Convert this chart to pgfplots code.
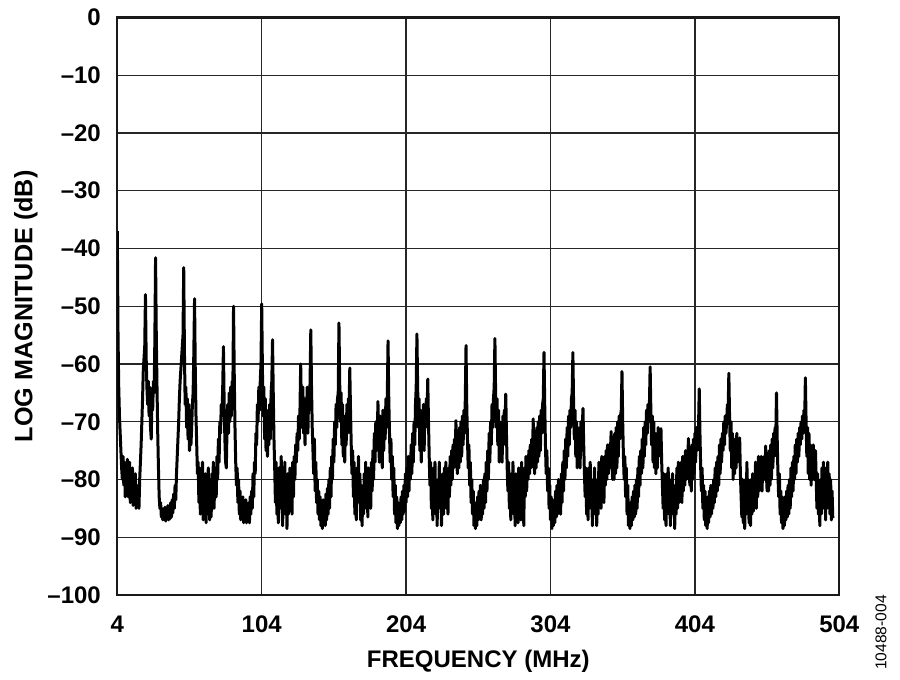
\documentclass[border=0pt]{standalone}
\usepackage{pgfplots}
\pgfplotsset{compat=1.18}
\usepackage{fontspec}
\setmainfont{Liberation Sans}
\begin{document}
\begin{tikzpicture}
\useasboundingbox (-58.65pt,-42.5pt) rectangle (391.35pt,297.5pt);
\begin{axis}[
  scale only axis, width=361pt, height=288.75pt,
  xmin=4, xmax=504, ymin=-100, ymax=0,
  xtick={4,104,204,304,404,504},
  xticklabels={4,104,204,304,404,504},
  ytick={-100,-90,-80,-70,-60,-50,-40,-30,-20,-10,0},
  yticklabels={\textendash100,\textendash90,\textendash80,\textendash70,\textendash60,\textendash50,\textendash40,\textendash30,\textendash20,\textendash10,0},
  grid=major,
  major grid style={line width=0.7pt, draw=black!85},
  axis line style={line width=1.1pt, draw=black!90},
  major tick length=0pt,
  tick label style={font=\fontsize{12}{14}\selectfont\bfseries},
  /pgf/number format/assume math mode=true,
  xticklabel style={yshift=-7pt},
  yticklabel style={xshift=-4.7pt},
  xlabel={FREQUENCY (MHz)},
  ylabel={LOG MAGNITUDE (dB)},
  xlabel style={at={(axis description cs:0.5,-0.1264)}, anchor=base, font=\fontsize{12}{14}\selectfont\bfseries},
  ylabel style={at={(axis description cs:-0.1177,0.5)}, rotate=0, anchor=base, font=\fontsize{12.6}{14}\selectfont\bfseries},
]
\addplot[black, line width=1.5pt, line join=round, mark=none] coordinates {
(4,-37)(4.5,-55)(5,-64)(5.5,-69)(6,-72)(6.5,-75)(7,-78)(7.5,-80)(8,-76)(8.5,-81)
(9,-77)(9.5,-83)(10,-78)(10.5,-80)(11,-76.5)(11.5,-83)(12,-79)(12.5,-77)(13,-84)(13.5,-79)
(14,-82)(14.5,-78)(15,-84.5)(15.5,-80)(16,-83)(16.5,-79)(17,-85)(17.5,-81)(18,-84.5)(18.5,-82)
(19,-85)(19.5,-80)(20,-77)(20.5,-74)(21,-70)(21.5,-66)(22,-61)(22.5,-59)(23,-57)(23.5,-48)
(24,-59)(24.5,-64)(25,-67)(25.5,-63)(26,-69)(26.5,-64)(27,-71)(27.5,-73)(28,-66)(28.5,-68)
(29,-63)(29.5,-65)(30,-56)(30.5,-41.6)(31,-55)(31.5,-64)(32,-72)(32.5,-78)(33,-83)(33.5,-85)
(34,-84)(34.5,-86.5)(35,-85)(35.5,-87)(36,-85.5)(36.5,-86.8)(37,-84.8)(37.5,-87.2)(38,-85.5)(38.5,-86.5)
(39,-84.5)(39.5,-87)(40,-85)(40.5,-86.8)(41,-84)(41.5,-86.5)(42,-83.5)(42.5,-85.8)(43,-82.5)(43.5,-85)
(44,-81)(44.5,-83.5)(45,-79)(45.5,-76)(46,-73)(46.5,-70)(47,-66)(47.5,-63)(48,-61)(48.5,-59)
(49,-57)(49.5,-55)(50,-43.3)(50.5,-58)(51,-67)(51.5,-64)(52,-71)(52.5,-66)(53,-73)(53.5,-67)
(54,-75)(54.5,-69)(55,-74)(55.5,-71)(56,-67)(56.5,-65)(57,-58)(57.5,-48.7)(58,-61)(58.5,-69)
(59,-74)(59.5,-79)(60,-77)(60.5,-84)(61,-78)(61.5,-86)(62,-80)(62.5,-83)(63,-77)(63.5,-87)
(64,-82)(64.5,-85)(65,-79)(65.5,-87.5)(66,-81)(66.5,-86)(67,-78)(67.5,-84)(68,-87)(68.5,-80)
(69,-86.5)(69.5,-79)(70,-84)(70.5,-77)(71,-85)(71.5,-80)(72,-78)(72.5,-83)(73,-76)(73.5,-80)
(74,-73)(74.5,-77)(75,-70)(75.5,-72)(76,-67)(76.5,-69)(77,-64)(77.5,-57)(78,-67)(78.5,-73)
(79,-77)(79.5,-78)(80,-71)(80.5,-67)(81,-72)(81.5,-65)(82,-70)(82.5,-64)(83,-69)(83.5,-63)
(84,-65)(84.5,-50)(85,-62)(85.5,-71)(86,-77)(86.5,-81)(87,-78)(87.5,-84)(88,-80)(88.5,-86)
(89,-82)(89.5,-87)(90,-84)(90.5,-86.5)(91,-83)(91.5,-87.5)(92,-85)(92.5,-87)(93,-83.5)(93.5,-87.5)
(94,-85)(94.5,-87)(95,-84)(95.5,-87.5)(96,-83)(96.5,-86)(97,-82)(97.5,-85)(98,-79)(98.5,-83)
(99,-77)(99.5,-79)(100,-72)(100.5,-74)(101,-67)(101.5,-70)(102,-64)(102.5,-68)(103,-63)(103.5,-60)
(104,-49.6)(104.5,-61)(105,-69)(105.5,-64)(106,-73)(106.5,-66)(107,-75)(107.5,-68)(108,-76)(108.5,-70)
(109,-74)(109.5,-67)(110,-73)(110.5,-65)(111,-63)(111.5,-55.8)(112,-65)(112.5,-73)(113,-78)(113.5,-84)
(114,-77)(114.5,-86)(115,-80)(115.5,-87.5)(116,-78)(116.5,-85)(117,-82)(117.5,-76)(118,-84)(118.5,-88)
(119,-80)(119.5,-86)(120,-77)(120.5,-84)(121,-81)(121.5,-88.5)(122,-79)(122.5,-86)(123,-83)(123.5,-78)
(124,-85)(124.5,-80)(125,-86)(125.5,-77)(126,-83)(126.5,-76)(127,-80)(127.5,-74)(128,-77)(128.5,-72)
(129,-75)(129.5,-69)(130,-73)(130.5,-68)(131,-60)(131.5,-68)(132,-71)(132.5,-64)(133,-72)(133.5,-66)
(134,-74)(134.5,-67)(135,-70)(135.5,-64)(136,-72)(136.5,-65)(137,-68)(137.5,-63)(138,-54.1)(138.5,-64)
(139,-71)(139.5,-75)(140,-79)(140.5,-73)(141,-82)(141.5,-77)(142,-84)(142.5,-80)(143,-86)(143.5,-82)
(144,-87)(144.5,-83)(145,-88)(145.5,-84.5)(146,-88.5)(146.5,-83.5)(147,-87.5)(147.5,-85)(148,-88)(148.5,-82.5)
(149,-87)(149.5,-81.5)(150,-86)(150.5,-80)(151,-85)(151.5,-78)(152,-83)(152.5,-76)(153,-80)(153.5,-73)
(154,-77)(154.5,-70)(155,-74)(155.5,-67)(156,-71)(156.5,-66)(157,-65)(157.5,-52.9)(158,-63)(158.5,-70)
(159,-65)(159.5,-74)(160,-67)(160.5,-76)(161,-69)(161.5,-77)(162,-70)(162.5,-74)(163,-67)(163.5,-72)
(164,-66)(164.5,-68)(165,-60.7)(165.5,-68)(166,-74)(166.5,-79)(167,-75)(167.5,-83)(168,-77)(168.5,-86)
(169,-80)(169.5,-87)(170,-78)(170.5,-84)(171,-76)(171.5,-83)(172,-79)(172.5,-87)(173,-81)(173.5,-88)
(174,-82)(174.5,-86)(175,-79)(175.5,-85)(176,-77)(176.5,-84)(177,-80)(177.5,-86.5)(178,-78)(178.5,-84)
(179,-81)(179.5,-85)(180,-77)(180.5,-82)(181,-75)(181.5,-80)(182,-72)(182.5,-77)(183,-70)(183.5,-75)
(184,-73)(184.5,-66.5)(185,-73)(185.5,-77)(186,-69)(186.5,-76)(187,-70)(187.5,-78)(188,-68)(188.5,-75)
(189,-69)(189.5,-73)(190,-66)(190.5,-71)(191,-65)(191.5,-56)(192,-66)(192.5,-72)(193,-77)(193.5,-73)
(194,-80)(194.5,-76)(195,-83)(195.5,-78)(196,-86)(196.5,-81)(197,-87.5)(197.5,-83)(198,-88.5)(198.5,-84)
(199,-88)(199.5,-85)(200,-87.5)(200.5,-83)(201,-87)(201.5,-82)(202,-86)(202.5,-81)(203,-85.5)(203.5,-79)
(204,-84)(204.5,-78)(205,-83)(205.5,-76)(206,-82)(206.5,-77)(207,-80)(207.5,-74)(208,-79)(208.5,-72)
(209,-77)(209.5,-70)(210,-74)(210.5,-67)(211,-64)(211.5,-54.8)(212,-64)(212.5,-71)(213,-66)(213.5,-75)
(214,-68)(214.5,-77)(215,-70)(215.5,-74)(216,-67)(216.5,-75)(217,-68)(217.5,-71)(218,-66)(218.5,-69)
(219,-62.6)(219.5,-70)(220,-76)(220.5,-81)(221,-77)(221.5,-85)(222,-79)(222.5,-87)(223,-78)(223.5,-83)
(224,-77)(224.5,-86)(225,-81)(225.5,-88)(226,-80)(226.5,-85)(227,-77)(227.5,-84)(228,-81)(228.5,-88)
(229,-83)(229.5,-79)(230,-86)(230.5,-78)(231,-84)(231.5,-77)(232,-85)(232.5,-80)(233,-86)(233.5,-78)
(234,-83)(234.5,-76)(235,-81)(235.5,-75)(236,-80)(236.5,-74)(237,-78)(237.5,-73)(238,-76)(238.5,-69.8)
(239,-76)(239.5,-79)(240,-72)(240.5,-78)(241,-71)(241.5,-77)(242,-70)(242.5,-76)(243,-69)(243.5,-74)
(244,-68)(244.5,-72)(245,-66)(245.5,-56.8)(246,-67)(246.5,-73)(247,-78)(247.5,-74)(248,-81)(248.5,-77)
(249,-84)(249.5,-80)(250,-86)(250.5,-82)(251,-88)(251.5,-84)(252,-88.5)(252.5,-84.5)(253,-88)(253.5,-83)
(254,-87)(254.5,-82)(255,-86.5)(255.5,-81)(256,-87)(256.5,-83)(257,-86)(257.5,-80)(258,-85)(258.5,-79)
(259,-84)(259.5,-77)(260,-82)(260.5,-75)(261,-80)(261.5,-72)(262,-77)(262.5,-70)(263,-74)(263.5,-67)
(264,-71)(264.5,-66)(265,-64)(265.5,-55.6)(266,-65)(266.5,-71)(267,-66)(267.5,-74)(268,-68)(268.5,-77)
(269,-70)(269.5,-76)(270,-71)(270.5,-77)(271,-69)(271.5,-74)(272,-68)(272.5,-71)(273,-65.2)(273.5,-72)
(274,-78)(274.5,-82)(275,-77)(275.5,-85)(276,-80)(276.5,-87)(277,-79)(277.5,-84)(278,-77)(278.5,-86)
(279,-81)(279.5,-88)(280,-79)(280.5,-85)(281,-82)(281.5,-87.5)(282,-78)(282.5,-84)(283,-80)(283.5,-87)
(284,-77)(284.5,-85)(285,-81)(285.5,-88)(286,-78)(286.5,-83)(287,-76)(287.5,-82)(288,-77)(288.5,-80)
(289,-75)(289.5,-79)(290,-74)(290.5,-78)(291,-73)(291.5,-77)(292,-69.5)(292.5,-76)(293,-79)(293.5,-72)
(294,-78)(294.5,-71)(295,-77)(295.5,-70)(296,-76)(296.5,-69)(297,-75)(297.5,-68)(298,-72)(298.5,-67)
(299,-66)(299.5,-58)(300,-67)(300.5,-74)(301,-79)(301.5,-75)(302,-82)(302.5,-78)(303,-85)(303.5,-81)
(304,-87)(304.5,-83)(305,-88.5)(305.5,-84)(306,-88)(306.5,-83.5)(307,-87.5)(307.5,-82)(308,-86.5)(308.5,-81)
(309,-86)(309.5,-80)(310,-85)(310.5,-81)(311,-86)(311.5,-79)(312,-84)(312.5,-77)(313,-82)(313.5,-75)
(314,-80)(314.5,-73)(315,-78)(315.5,-71)(316,-76)(316.5,-69)(317,-74)(317.5,-68)(318,-71)(318.5,-66)
(319,-65)(319.5,-58)(320,-67)(320.5,-73)(321,-68)(321.5,-76)(322,-70)(322.5,-78)(323,-71)(323.5,-77)
(324,-72)(324.5,-78)(325,-70)(325.5,-75)(326,-71)(326.5,-67.7)(327,-74)(327.5,-79)(328,-83)(328.5,-78)
(329,-86)(329.5,-80)(330,-87)(330.5,-78)(331,-85)(331.5,-77)(332,-84)(332.5,-80)(333,-88)(333.5,-81)
(334,-86)(334.5,-78)(335,-85)(335.5,-82)(336,-88)(336.5,-80)(337,-86)(337.5,-77)(338,-84)(338.5,-78)
(339,-85)(339.5,-76)(340,-82)(340.5,-77)(341,-84)(341.5,-76)(342,-81)(342.5,-75)(343,-80)(343.5,-74)
(344,-79)(344.5,-74)(345,-78)(345.5,-75)(346,-71.7)(346.5,-77)(347,-80)(347.5,-73)(348,-80)(348.5,-72)
(349,-79)(349.5,-71)(350,-78)(350.5,-70)(351,-76)(351.5,-69)(352,-73)(352.5,-69)(353,-68)(353.5,-61.3)
(354,-70)(354.5,-76)(355,-80)(355.5,-76)(356,-83)(356.5,-78)(357,-86)(357.5,-81)(358,-88)(358.5,-84)
(359,-88.5)(359.5,-84)(360,-88)(360.5,-83)(361,-87)(361.5,-82)(362,-86.5)(362.5,-81)(363,-86)(363.5,-80)
(364,-85)(364.5,-78)(365,-83)(365.5,-76)(366,-81)(366.5,-75)(367,-79)(367.5,-73)(368,-78)(368.5,-71)
(369,-76)(369.5,-70)(370,-74)(370.5,-68)(371,-72)(371.5,-67)(372,-70)(372.5,-67)(373,-60.5)(373.5,-68)
(374,-74)(374.5,-69)(375,-77)(375.5,-70)(376,-78)(376.5,-72)(377,-79)(377.5,-73)(378,-78)(378.5,-71)
(379,-76)(379.5,-72)(380,-75)(380.5,-71.2)(381,-77)(381.5,-81)(382,-85)(382.5,-79)(383,-87)(383.5,-81)
(384,-88)(384.5,-79)(385,-85)(385.5,-78)(386,-86)(386.5,-80)(387,-88)(387.5,-82)(388,-86)(388.5,-79)
(389,-85)(389.5,-81)(390,-88.5)(390.5,-82)(391,-86)(391.5,-78)(392,-85)(392.5,-77)(393,-84)(393.5,-78)
(394,-83)(394.5,-77)(395,-84)(395.5,-76)(396,-82)(396.5,-76)(397,-81)(397.5,-75)(398,-80)(398.5,-75)
(399,-78)(399.5,-72.9)(400,-78)(400.5,-81)(401,-75)(401.5,-82)(402,-74)(402.5,-80)(403,-73)(403.5,-79)
(404,-72)(404.5,-77)(405,-71)(405.5,-75)(406,-72)(406.5,-71)(407,-64.3)(407.5,-72)(408,-78)(408.5,-82)
(409,-78)(409.5,-85)(410,-81)(410.5,-87)(411,-82)(411.5,-88)(412,-84)(412.5,-88.5)(413,-83)(413.5,-87.5)
(414,-82)(414.5,-86.5)(415,-81)(415.5,-86)(416,-81.5)(416.5,-85)(417,-80)(417.5,-84)(418,-78)(418.5,-83)
(419,-77)(419.5,-82)(420,-76)(420.5,-81)(421,-74)(421.5,-79)(422,-73)(422.5,-77)(423,-72)(423.5,-75)
(424,-70)(424.5,-74)(425,-69)(425.5,-72)(426,-70)(426.5,-67)(427,-68)(427.5,-61.6)(428,-69)(428.5,-75)
(429,-70)(429.5,-78)(430,-72)(430.5,-80)(431,-73)(431.5,-79)(432,-74)(432.5,-78)(433,-72)(433.5,-77)
(434,-73)(434.5,-76)(435,-72.8)(435.5,-79)(436,-83)(436.5,-86.5)(437,-80)(437.5,-87.5)(438,-81)(438.5,-88.5)
(439,-80)(439.5,-86)(440,-77)(440.5,-84)(441,-80)(441.5,-87.5)(442,-82)(442.5,-88)(443,-80)(443.5,-86)
(444,-79)(444.5,-85.5)(445,-80)(445.5,-84)(446,-77)(446.5,-85)(447,-78)(447.5,-83)(448,-76)(448.5,-82)
(449,-77)(449.5,-81)(450,-76)(450.5,-82)(451,-77)(451.5,-80)(452,-76)(452.5,-80)(453,-74.2)(453.5,-79)
(454,-82)(454.5,-76)(455,-82)(455.5,-75)(456,-81)(456.5,-74)(457,-80)(457.5,-73)(458,-78)(458.5,-72)
(459,-76)(459.5,-71)(460,-73)(460.5,-65)(461,-73)(461.5,-79)(462,-83)(462.5,-79)(463,-86)(463.5,-82)
(464,-87.5)(464.5,-83)(465,-88.5)(465.5,-84.5)(466,-88)(466.5,-83)(467,-87)(467.5,-82)(468,-86.5)(468.5,-81)
(469,-86)(469.5,-80)(470,-85)(470.5,-78)(471,-83)(471.5,-77)(472,-82)(472.5,-76)(473,-80)(473.5,-74)
(474,-79)(474.5,-73)(475,-77)(475.5,-72)(476,-76)(476.5,-71)(477,-74)(477.5,-70)(478,-73)(478.5,-69)
(479,-72)(479.5,-68)(480,-70)(480.5,-62.4)(481,-70)(481.5,-76)(482,-71)(482.5,-79)(483,-72)(483.5,-80)
(484,-74)(484.5,-81)(485,-75)(485.5,-80)(486,-74)(486.5,-80)(487,-78)(487.5,-75)(488,-80)(488.5,-85)
(489,-79)(489.5,-86)(490,-81)(490.5,-88)(491,-80)(491.5,-86)(492,-78)(492.5,-85)(493,-77)(493.5,-84)
(494,-79)(494.5,-87)(495,-78)(495.5,-85)(496,-77)(496.5,-83)(497,-79)(497.5,-86)(498,-80)(498.5,-87)
(499,-82)(499.5,-86.7)
};
\end{axis}
\node[rotate=90, anchor=center, font=\fontsize{7.8}{9}\selectfont] at (381.8pt,-18.75pt) {10488-004};
\end{tikzpicture}
\end{document}
